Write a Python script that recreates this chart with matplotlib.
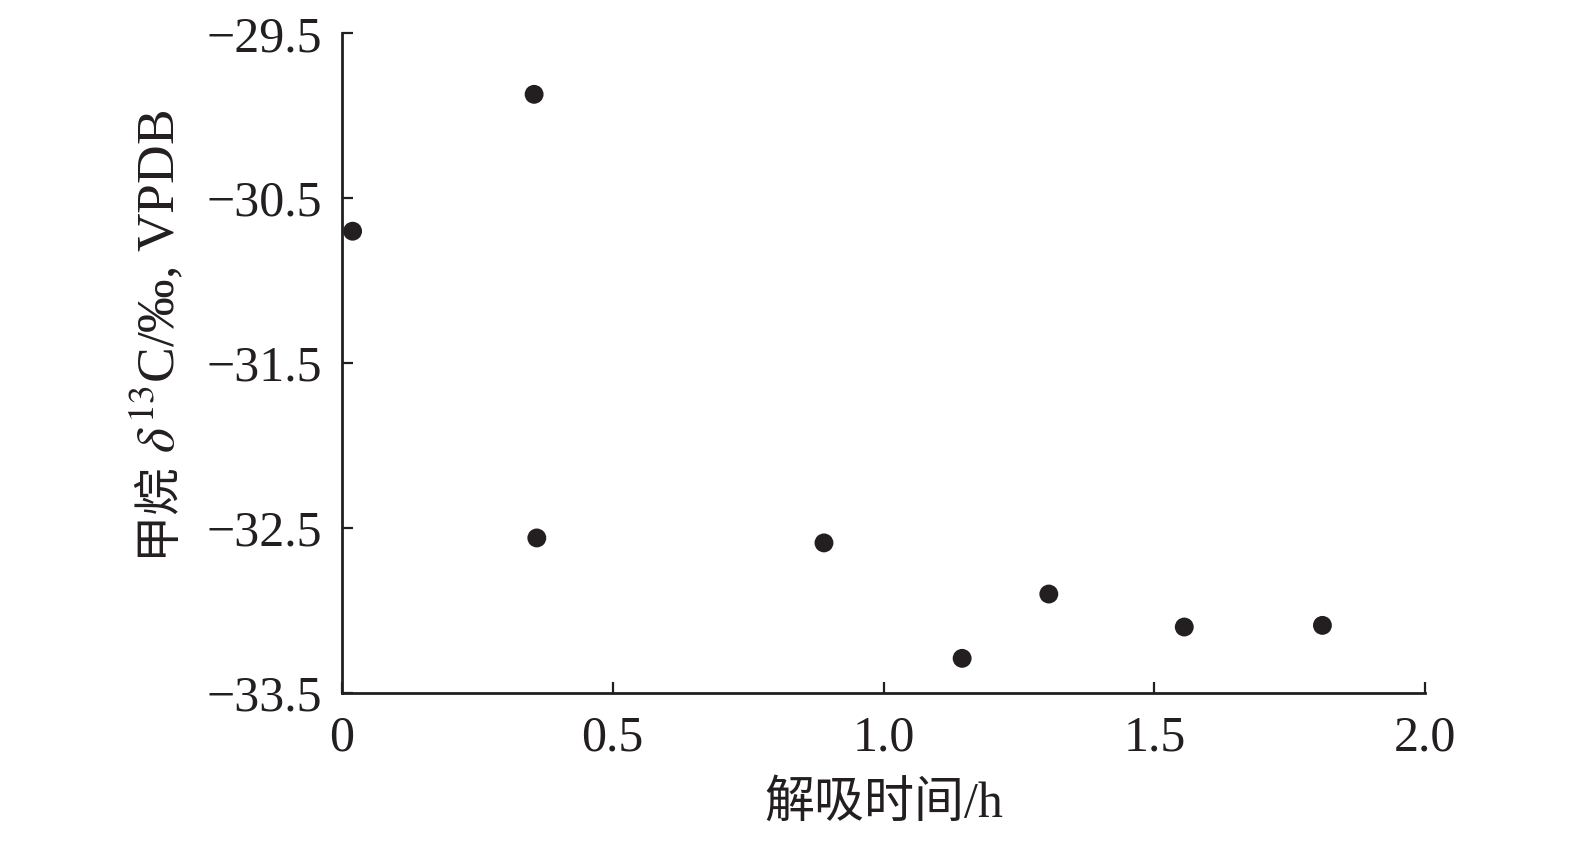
import matplotlib
matplotlib.use("Agg")
import matplotlib.pyplot as plt

# desorption time (h) vs methane delta13C (permil, VPDB)
time_h = [0.02, 0.355, 0.36, 0.89, 1.145, 1.305, 1.555, 1.81]
d13c = [-30.70, -29.87, -32.56, -32.59, -33.29, -32.90, -33.10, -33.09]

x_ticks = [0, 0.5, 1.0, 1.5, 2.0]
x_labels = ["0", "0.5", "1.0", "1.5", "2.0"]
y_ticks = [-33.5, -32.5, -31.5, -30.5, -29.5]
y_labels = ["\u221233.5", "\u221232.5", "\u221231.5", "\u221230.5", "\u221229.5"]

ink = "#231f20"
serif = ["Liberation Serif", "Noto Sans CJK SC"]
plt.rcParams["font.family"] = serif
plt.rcParams["mathtext.fontset"] = "stix"

fig = plt.figure(figsize=(15.75, 8.41), dpi=100)
ax = fig.add_axes([0.217, 0.176, 0.688, 0.7844])

ax.scatter(time_h, d13c, s=185, color=ink, edgecolors="none", zorder=3, clip_on=False)

ax.set_xlim(0, 2.0)
ax.set_ylim(-33.5, -29.5)
ax.set_xticks(x_ticks)
ax.set_xticklabels(x_labels)
ax.set_yticks(y_ticks)
ax.set_yticklabels(y_labels)

for side in ["top", "right"]:
    ax.spines[side].set_visible(False)
for side in ["left", "bottom"]:
    ax.spines[side].set_linewidth(2.0)
    ax.spines[side].set_color(ink)

ax.tick_params(direction="in", length=8, width=1.6, color=ink,
               labelsize=36, labelcolor=ink)
ax.tick_params(axis="x", pad=16)
ax.tick_params(axis="y", pad=14)

ax.set_xlabel("解吸时间/h", fontsize=36, color=ink, labelpad=14)

# y label in two pieces: CJK part and the math/latin part, sharing a baseline
fig.text(0.111, 0.457, "甲烷 ", rotation=90, rotation_mode="anchor",
         ha="right", va="baseline", fontsize=34, color=ink,
         family=["Noto Sans CJK SC"])
fig.text(0.111, 0.461, r"$\delta^{13}$C/‰, VPDB", rotation=90,
         rotation_mode="anchor", ha="left", va="baseline", fontsize=38.5,
         color=ink, family=["Liberation Serif"])

fig.savefig("out.png", dpi=100)
